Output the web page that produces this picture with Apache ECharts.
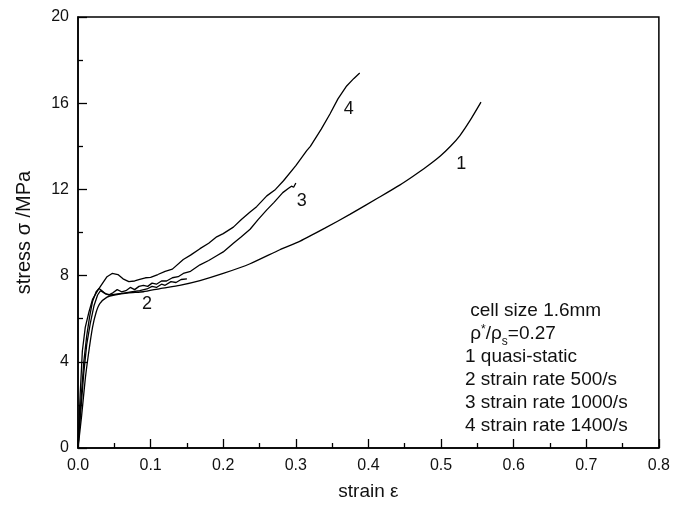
<!DOCTYPE html>
<html>
<head>
<meta charset="utf-8">
<script src="https://cdn.jsdelivr.net/npm/echarts@6/dist/echarts.min.js"></script>
<style>
  html, body { margin: 0; padding: 0; background: #fff; }
  #chart { width: 673px; height: 506px; }
</style>
</head>
<body>
<div id="chart"></div>
<script>
// strain / stress (MPa) pairs
const quasiStatic = [
  [0, 0], [0.005, 1.5], [0.01, 3.2], [0.015, 4.5], [0.02, 5.6], [0.025, 6.3], [0.03, 6.7],
  [0.04, 7.0], [0.05, 7.1], [0.07, 7.2], [0.09, 7.25], [0.113, 7.4], [0.14, 7.55],
  [0.168, 7.77], [0.2, 8.1], [0.237, 8.55], [0.278, 9.2], [0.306, 9.6], [0.34, 10.2],
  [0.375, 10.85], [0.413, 11.6], [0.443, 12.2], [0.461, 12.6], [0.48, 13.05], [0.499, 13.55],
  [0.513, 14.0], [0.526, 14.5], [0.54, 15.2], [0.555, 16.05]
];
const rate500 = [
  [0, 0], [0.004, 2.2], [0.008, 4.0], [0.012, 5.2], [0.016, 6.1], [0.02, 6.8], [0.025, 7.25],
  [0.029, 7.4], [0.033, 7.3], [0.038, 7.15], [0.045, 7.1], [0.055, 7.15], [0.065, 7.2],
  [0.075, 7.25], [0.085, 7.3], [0.095, 7.38], [0.102, 7.5], [0.108, 7.45], [0.115, 7.6],
  [0.12, 7.55], [0.128, 7.72], [0.135, 7.68], [0.142, 7.82], [0.15, 7.85]
];
const rate1000 = [
  [0, 0], [0.004, 1.8], [0.008, 3.5], [0.012, 4.8], [0.017, 5.8], [0.022, 6.6], [0.027, 7.1],
  [0.031, 7.3], [0.036, 7.2], [0.042, 7.1], [0.048, 7.2], [0.054, 7.35], [0.06, 7.25],
  [0.066, 7.3], [0.072, 7.45], [0.078, 7.35], [0.084, 7.5], [0.09, 7.55], [0.096, 7.5],
  [0.102, 7.65], [0.108, 7.6], [0.115, 7.75], [0.122, 7.75], [0.13, 7.9], [0.138, 7.95],
  [0.145, 8.1], [0.155, 8.2], [0.168, 8.5], [0.18, 8.7], [0.191, 8.92], [0.2, 9.1],
  [0.214, 9.5], [0.225, 9.8], [0.237, 10.15], [0.248, 10.6], [0.26, 11.05], [0.27, 11.4],
  [0.282, 11.85], [0.29, 12.05], [0.294, 12.15], [0.297, 12.1], [0.3, 12.3]
];
const rate1400 = [
  [0, 0], [0.003, 2.5], [0.006, 4.5], [0.01, 5.6], [0.015, 6.3], [0.02, 6.9], [0.027, 7.3],
  [0.033, 7.6], [0.04, 7.95], [0.047, 8.1], [0.055, 8.05], [0.062, 7.85], [0.07, 7.72],
  [0.078, 7.75], [0.085, 7.82], [0.093, 7.9], [0.1, 7.92], [0.11, 8.05], [0.12, 8.2],
  [0.13, 8.3], [0.145, 8.75], [0.155, 8.95], [0.168, 9.25], [0.18, 9.5], [0.191, 9.8],
  [0.2, 9.95], [0.214, 10.25], [0.225, 10.6], [0.237, 10.95], [0.246, 11.2], [0.26, 11.7],
  [0.272, 12.0], [0.283, 12.4], [0.3, 13.1], [0.315, 13.8], [0.32, 14.0], [0.335, 14.8],
  [0.347, 15.5], [0.358, 16.2], [0.37, 16.8], [0.38, 17.15], [0.388, 17.4]
];
const curveNames = ['1', '2', '3', '4'];
const curveLabelAt = [[0.528, 13.16], [0.095, 6.7], [0.308, 11.45], [0.373, 15.75]];
const noteLines = [
  ' cell size 1.6mm',
  ' ρ{sup|*}/ρ{sub|s}=0.27',
  '1 quasi-static',
  '2 strain rate 500/s',
  '3 strain rate 1000/s',
  '4 strain rate 1400/s'
];

const font = "'Liberation Sans', Arial, sans-serif";
const chart = echarts.init(document.getElementById('chart'));
const curves = [quasiStatic, rate500, rate1000, rate1400];

chart.setOption({
  animation: false,
  backgroundColor: '#fff',
  title: {
    text: noteLines.join('\n'),
    left: 460,
    top: 294,
    textStyle: {
      fontFamily: font, fontSize: 19, fontWeight: 'normal', color: '#111', lineHeight: 23,
      rich: {
        sup: { fontFamily: font, fontSize: 12, color: '#111', padding: [0, 0, 8, 0] },
        sub: { fontFamily: font, fontSize: 12, color: '#111', padding: [16, 0, 0, 0] }
      }
    }
  },
  grid: {
    left: 78, right: 14, top: 17, bottom: 56,
    show: true, borderColor: '#000', borderWidth: 1.5
  },
  xAxis: {
    type: 'value', min: 0, max: 0.8, interval: 0.1,
    name: 'strain ε', nameLocation: 'middle', nameGap: 34,
    nameTextStyle: { fontFamily: font, fontSize: 19, color: '#111' },
    axisLine: { lineStyle: { color: '#000', width: 1.5 } },
    axisTick: { inside: true, length: 9, lineStyle: { color: '#000', width: 1.3 } },
    minorTick: { show: true, splitNumber: 2, length: 5, lineStyle: { color: '#000', width: 1.3 } },
    axisLabel: { fontFamily: font, fontSize: 16, color: '#111', margin: 10,
      formatter: v => v.toFixed(1) },
    splitLine: { show: false }
  },
  yAxis: {
    type: 'value', min: 0, max: 20, interval: 4,
    name: 'stress σ /MPa', nameLocation: 'middle', nameGap: 44,
    nameTextStyle: { fontFamily: font, fontSize: 20, color: '#111' },
    axisLine: { lineStyle: { color: '#000', width: 1.5 } },
    axisTick: { inside: true, length: 9, lineStyle: { color: '#000', width: 1.3 } },
    minorTick: { show: true, splitNumber: 2, length: 5, lineStyle: { color: '#000', width: 1.3 } },
    axisLabel: { fontFamily: font, fontSize: 16, color: '#111', margin: 9 },
    splitLine: { show: false }
  },
  series: curves.map((c, i) => ({
    name: curveNames[i],
    type: 'line',
    data: c,
    showSymbol: false,
    smooth: i === 0 ? 0.2 : false,
    lineStyle: { color: '#000', width: 1.3 },
    markPoint: {
      symbol: 'circle', symbolSize: 0,
      label: { show: true, formatter: curveNames[i], fontFamily: font, fontSize: 18, color: '#111' },
      data: [{ coord: curveLabelAt[i] }]
    }
  }))
});
</script>
</body>
</html>
